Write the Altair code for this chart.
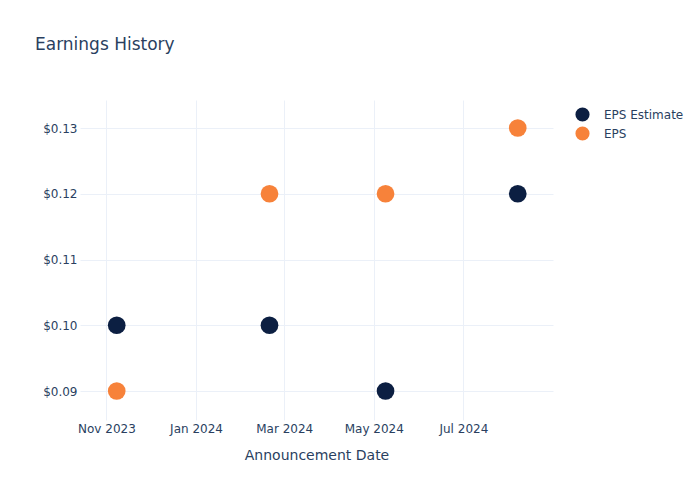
import altair as alt
import pandas as pd

dates = ["2023-11-08", "2024-02-20", "2024-05-09", "2024-08-07"]
eps_estimate = [0.10, 0.10, 0.09, 0.12]
eps_actual = [0.09, 0.12, 0.12, 0.13]
series_names = ["EPS Estimate", "EPS"]
series_colors = ["#0c1f42", "#f7823a"]
x_ticks = ["2023-11-01", "2024-01-01", "2024-03-01", "2024-05-01", "2024-07-01"]
y_ticks = [0.09, 0.10, 0.11, 0.12, 0.13]

rows = []
for d, v in zip(dates, eps_estimate):
    rows.append({"date": d, "value": v, "series": "EPS Estimate"})
for d, v in zip(dates, eps_actual):
    rows.append({"date": d, "value": v, "series": "EPS"})
df = pd.DataFrame(rows)


def ms(s):
    return int(pd.Timestamp(s, tz="UTC").timestamp() * 1000)


df["t"] = [ms(s) for s in df["date"]]

FONT = "DejaVu Sans"
TXT = "#2a3f5f"
GRID = "#ebf0f8"

chart = alt.Chart(df).mark_circle(size=314, opacity=1).encode(
    x=alt.X(
        "t:T",
        title="Announcement Date",
        scale=alt.Scale(type="utc", domain=[ms("2023-10-14"), ms("2024-08-31")]),
        axis=alt.Axis(
            values=[ms(s) for s in x_ticks],
            labelExpr="utcFormat(datum.value, '%b %Y')",
            grid=True,
            gridColor=GRID,
            domain=False,
            ticks=False,
            labelPadding=3,
            labelFontSize=12,
            labelColor=TXT,
            labelFont=FONT,
            titleFont=FONT,
            titleFontSize=14,
            titleFontWeight="normal",
            titleColor=TXT,
            titlePadding=14,
        ),
    ),
    y=alt.Y(
        "value:Q",
        title=None,
        scale=alt.Scale(domain=[0.08559, 0.13426], nice=False, zero=False),
        axis=alt.Axis(
            values=y_ticks,
            format="$.2f",
            grid=True,
            gridColor=GRID,
            domain=False,
            ticks=False,
            labelPadding=3,
            labelFontSize=12,
            labelColor=TXT,
            labelFont=FONT,
        ),
    ),
    color=alt.Color(
        "series:N",
        scale=alt.Scale(domain=series_names, range=series_colors),
        legend=alt.Legend(
            title=None,
            orient="none",
            legendX=495,
            legendY=7,
            symbolType="circle",
            symbolSize=200,
            symbolStrokeWidth=0,
            symbolOpacity=1,
            labelFontSize=12,
            labelColor=TXT,
            labelFont=FONT,
            labelOffset=14,
            rowPadding=4,
        ),
    ),
).properties(
    width=473,
    height=320,
    padding={"left": 80, "top": 100, "right": 147, "bottom": 80},
    autosize=alt.AutoSizeParams(type="none"),
    title=alt.TitleParams(
        "Earnings History",
        anchor="start",
        frame="group",
        dx=-45,
        offset=46,
        fontSize=17,
        fontWeight="normal",
        color=TXT,
        font=FONT,
    ),
).configure(
    background="white",
    view=alt.ViewConfig(stroke="transparent", strokeWidth=0),
)

chart.save("out.html", embed_options={"renderer": "svg", "actions": False})
